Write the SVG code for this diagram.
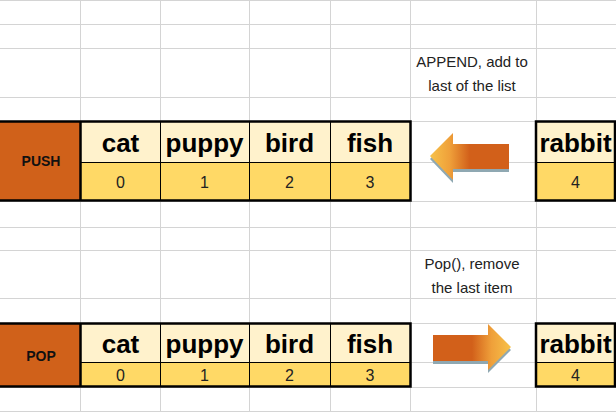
<svg xmlns="http://www.w3.org/2000/svg" width="616" height="412" viewBox="0 0 616 412">
<style>
.g{stroke:#D4D4D4;stroke-width:1;fill:none}
.cream{fill:#FFF2CC}
.yel{fill:#FFD966}
.lab{fill:#D0611A}
.thin{stroke:#000;stroke-width:1;fill:none}
.thick{stroke:#000;stroke-width:2.5;fill:none}
.w{font-family:"Liberation Sans",Arial,sans-serif;font-weight:bold;font-size:26px;fill:#000;text-anchor:middle}
.n{font-family:"Liberation Sans",Arial,sans-serif;font-size:16px;fill:#222;text-anchor:middle}
.h{font-family:"Liberation Sans",Arial,sans-serif;font-weight:bold;font-size:14px;fill:#111;text-anchor:middle}
.c{font-family:"Liberation Sans",Arial,sans-serif;font-size:15px;fill:#222;text-anchor:middle}
.shadow{fill:#8FA8B2}
</style>
<defs>
<linearGradient id="gl" x1="0" y1="0" x2="1" y2="0">
<stop offset="0" stop-color="#F7C24A"/>
<stop offset="0.25" stop-color="#EFA03A"/>
<stop offset="0.5" stop-color="#D2601A"/>
<stop offset="1" stop-color="#D2601A"/>
</linearGradient>
<linearGradient id="gr" x1="1" y1="0" x2="0" y2="0">
<stop offset="0" stop-color="#F7C24A"/>
<stop offset="0.25" stop-color="#EFA03A"/>
<stop offset="0.5" stop-color="#D2601A"/>
<stop offset="1" stop-color="#D2601A"/>
</linearGradient>
</defs>
<rect width="616" height="412" fill="#fff"/>
<g id="grid" class="g">
<path d="M80.5 0V412M160.5 0V412M249.5 0V412M330.5 0V412M410.5 0V412M536.5 0V412"/>
<path d="M0 0.5H616M0 24.5H616M0 48.5H616M0 97.5H616M0 121.5H616M0 162.5H616M0 201.5H616M0 227.5H616M0 250.5H616M0 298.5H616M0 323.5H616M0 362.5H616M0 387.5H616M0 411.5H616"/>
</g>
<g id="append-note">
<text class="c" x="472" y="67">APPEND, add to</text>
<text class="c" x="472" y="91">last of the list</text>
</g>
<g id="pop-note">
<text class="c" x="472" y="269">Pop(), remove</text>
<text class="c" x="472" y="293">the last item</text>
</g>
<g id="push-table">
<rect class="lab" x="0" y="121" width="81" height="80"/>
<rect class="cream" x="81" y="121" width="329" height="41"/>
<rect class="yel" x="81" y="162" width="329" height="39"/>
<path class="thin" d="M160.5 121V201M249.5 121V201M330.5 121V201M81 162.5H410"/>
<path class="thick" d="M0 121.5H410.5V200.5H0M80.5 121V201"/>
<text class="h" x="41" y="166">PUSH</text>
<text class="w" x="120.5" y="152">cat</text>
<text class="w" x="204.5" y="152">puppy</text>
<text class="w" x="289.5" y="152">bird</text>
<text class="w" x="370" y="152">fish</text>
<text class="n" x="120.5" y="188">0</text>
<text class="n" x="204.5" y="188">1</text>
<text class="n" x="289.5" y="188">2</text>
<text class="n" x="370" y="188">3</text>
</g>
<g id="push-rabbit">
<rect class="cream" x="536" y="121" width="79" height="41"/>
<rect class="yel" x="536" y="162" width="79" height="39"/>
<path class="thin" d="M536 162.5H615"/>
<rect class="thick" x="536" y="121.5" width="79" height="79"/>
<text class="w" x="575.5" y="152">rabbit</text>
<text class="n" x="575.5" y="188">4</text>
</g>
<g id="pop-table">
<rect class="lab" x="0" y="323" width="81" height="64"/>
<rect class="cream" x="81" y="323" width="329" height="39"/>
<rect class="yel" x="81" y="362" width="329" height="25"/>
<path class="thin" d="M160.5 323V387M249.5 323V387M330.5 323V387M81 362.5H410"/>
<path class="thick" d="M0 323.5H410.5V386.5H0M80.5 323V387"/>
<text class="h" x="41" y="361">POP</text>
<text class="w" x="120.5" y="353">cat</text>
<text class="w" x="204.5" y="353">puppy</text>
<text class="w" x="289.5" y="353">bird</text>
<text class="w" x="370" y="353">fish</text>
<text class="n" x="120.5" y="381">0</text>
<text class="n" x="204.5" y="381">1</text>
<text class="n" x="289.5" y="381">2</text>
<text class="n" x="370" y="381">3</text>
</g>
<g id="pop-rabbit">
<rect class="cream" x="536" y="323" width="79" height="39"/>
<rect class="yel" x="536" y="362" width="79" height="25"/>
<path class="thin" d="M536 362.5H615"/>
<rect class="thick" x="536" y="323.5" width="79" height="63"/>
<text class="w" x="575.5" y="353">rabbit</text>
<text class="n" x="575.5" y="381">4</text>
</g>
<g id="connectors">
<polygon class="shadow" points="430,159 453,136 453,147 509,147 509,172 453,172 453,183"/>
<polygon fill="url(#gl)" points="430,156 453,133 453,144 509,144 509,169 453,169 453,180"/>
<polygon class="shadow" points="433,338 488,338 488,327 511,350 488,373 488,364 433,364"/>
<polygon fill="url(#gr)" points="433,335 488,335 488,324 511,347 488,370 488,361 433,361"/>
</g>
</svg>
